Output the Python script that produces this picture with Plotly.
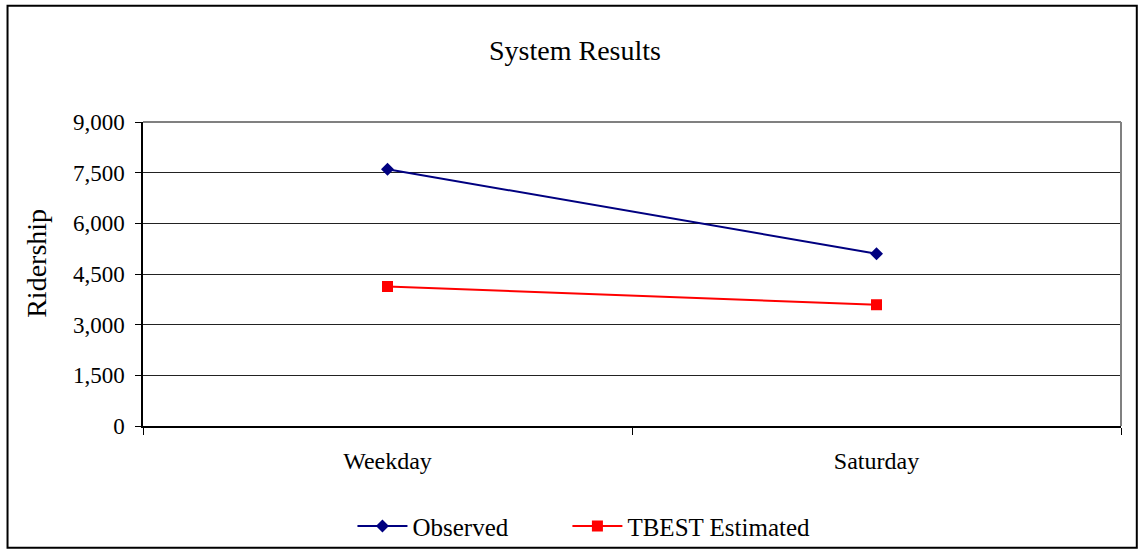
import plotly.graph_objects as go

# Ridership by day type
days = ["Weekday", "Saturday"]
observed = [7600, 5100]
tbest_estimated = [4130, 3590]
y_ticks = [0, 1500, 3000, 4500, 6000, 7500, 9000]
y_tick_labels = ["0", "1,500", "3,000", "4,500", "6,000", "7,500", "9,000"]

W, H = 1139, 550
L, R, T, B = 142.5, 18.3, 121.7, 124.3
pw, ph = W - L - R, H - T - B


def px(x):
    return (x - L) / pw


def py(y):
    return (H - B - y) / ph


FONT = "Liberation Serif, Times New Roman, serif"

fig = go.Figure()
fig.add_trace(go.Scatter(
    x=days, y=observed, name="Observed", mode="lines+markers",
    line=dict(color="#000080", width=2),
    marker=dict(symbol="diamond", size=10, color="#000080"),
    legend="legend",
))
fig.add_trace(go.Scatter(
    x=days, y=tbest_estimated, name="TBEST Estimated", mode="lines+markers",
    line=dict(color="#FF0000", width=2),
    marker=dict(symbol="square", size=11, color="#FF0000"),
    legend="legend2",
))

legend_style = dict(
    orientation="h", yanchor="middle", xanchor="left",
    font=dict(family=FONT, size=25), itemwidth=50,
    bgcolor="rgba(0,0,0,0)",
)

fig.update_layout(
    width=W, height=H,
    margin=dict(l=L, r=R, t=T, b=B, autoexpand=False),
    paper_bgcolor="white", plot_bgcolor="white",
    font=dict(family=FONT, size=23, color="black"),
    showlegend=True,
    legend=dict(legend_style, x=px(358 - 6), y=py(526)),
    legend2=dict(legend_style, x=px(573 - 6), y=py(526)),
    xaxis=dict(
        type="category", range=[-0.5, 1.5], showgrid=False,
        showline=True, linecolor="black", linewidth=1.5,
        ticks="outside", tickson="boundaries", ticklen=7, tickcolor="black",
        tickfont=dict(family=FONT, size=24), ticklabelstandoff=12,
        zeroline=False, fixedrange=True,
    ),
    yaxis=dict(
        range=[0, 9000], tickvals=y_ticks, ticktext=y_tick_labels,
        showgrid=True, gridcolor="#222222", gridwidth=1,
        showline=True, linecolor="black", linewidth=1.5,
        ticks="outside", ticklen=6, tickcolor="black",
        tickfont=dict(family=FONT, size=23), ticklabelstandoff=6,
        zeroline=False, fixedrange=True,
    ),
    shapes=[
        # gray frame on the top and right of the plot area
        dict(type="line", xref="paper", yref="paper", x0=0, x1=1, y0=1, y1=1,
             line=dict(color="#808080", width=2), layer="above"),
        dict(type="line", xref="paper", yref="paper", x0=1, x1=1, y0=0, y1=1,
             line=dict(color="#808080", width=2), layer="above"),
        # outer chart border
        dict(type="rect", xref="paper", yref="paper",
             x0=px(7), x1=px(1136.5), y0=py(547.5), y1=py(5.5),
             line=dict(color="black", width=2), layer="above"),
    ],
    annotations=[
        dict(text="System Results", xref="paper", yref="paper",
             x=px(574.5), y=py(50), xanchor="center", yanchor="middle",
             showarrow=False, font=dict(family=FONT, size=28)),
        dict(text="Ridership", xref="paper", yref="paper", textangle=-90,
             x=px(36), y=py(263), xanchor="center", yanchor="middle",
             showarrow=False, font=dict(family=FONT, size=28)),
    ],
)

fig.write_html("out.html")
